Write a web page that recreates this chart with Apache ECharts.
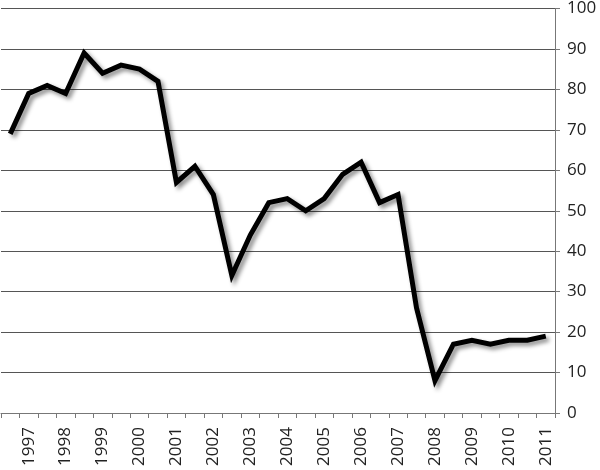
<!DOCTYPE html>
<html>
<head>
<meta charset="utf-8">
<script src="https://cdn.jsdelivr.net/npm/echarts@6/dist/echarts.min.js"></script>
<style>
html,body{margin:0;padding:0;background:#fff;}
#chart{width:600px;height:470px;}
</style>
</head>
<body>
<div id="chart"></div>
<script>
// Half-year periods, labels shown on the first half of each year
const periods = ['1996-2','1997-1','1997-2','1998-1','1998-2','1999-1','1999-2','2000-1','2000-2','2001-1','2001-2','2002-1','2002-2','2003-1','2003-2','2004-1','2004-2','2005-1','2005-2','2006-1','2006-2','2007-1','2007-2','2008-1','2008-2','2009-1','2009-2','2010-1','2010-2','2011-1'];
const values = [69,79,81,79,89,84,86,85,82,57,61,54,34,44,52,53,50,53,59,62,52,54,26,8,17,18,17,18,18,19];
const yTicks = {min:0, max:100, interval:10};

const chart = echarts.init(document.getElementById('chart'), null, {renderer:'canvas'});
chart.setOption({
  animation:false,
  backgroundColor:'#fff',
  grid:{left:1, right:45, top:8, bottom:57, containLabel:false},
  xAxis:{
    type:'category',
    data:periods,
    boundaryGap:true,
    axisLine:{show:true, lineStyle:{color:'#777', width:1}},
    axisTick:{show:true, length:5, interval:0, lineStyle:{color:'#777'}},
    axisLabel:{
      rotate:90,
      margin:14,
      interval:function(i){return i % 2 === 1;},
      formatter:function(v){return v.split('-')[0];},
      fontFamily:'Open Sans',
      fontSize:17,
      color:'#222'
    },
    splitLine:{show:false}
  },
  yAxis:{
    type:'value',
    position:'right',
    min:yTicks.min, max:yTicks.max, interval:yTicks.interval,
    axisLine:{show:true, lineStyle:{color:'#777', width:1}},
    axisTick:{show:true, length:5, lineStyle:{color:'#777'}},
    axisLabel:{margin:12, fontFamily:'Open Sans', fontSize:17, color:'#222'},
    splitLine:{show:true, lineStyle:{color:'#555', width:1}}
  },
  series:[{
    type:'line',
    data:values,
    symbol:'none',
    lineStyle:{color:'#000', width:5, join:'miter', shadowColor:'rgba(0,0,0,0.45)', shadowBlur:4, shadowOffsetX:3, shadowOffsetY:3}
  }]
});
</script>
</body>
</html>
